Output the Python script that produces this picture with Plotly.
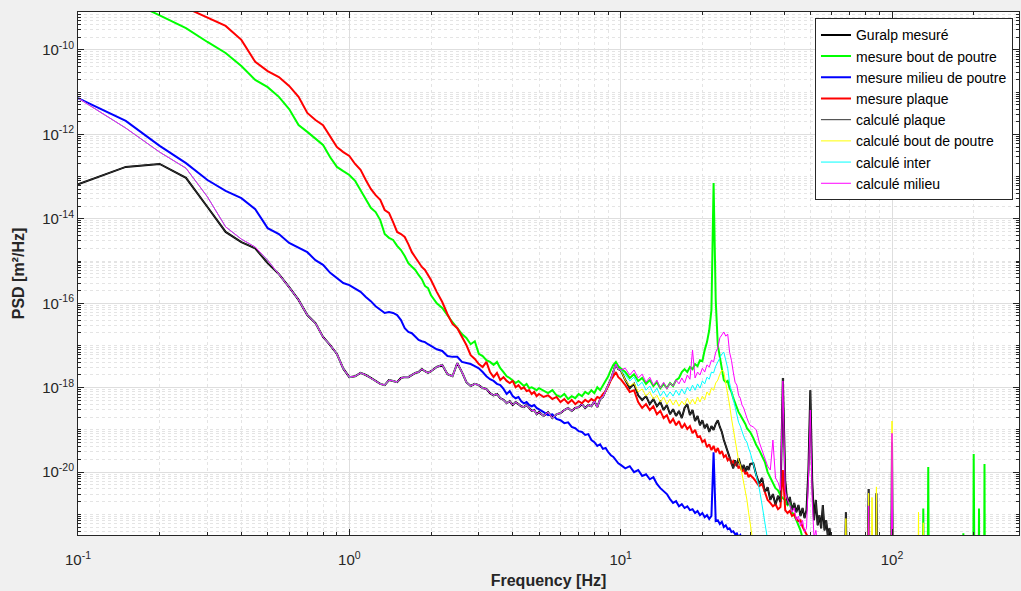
import plotly.graph_objects as go

# ---------------- frequency grid (Hz) ----------------
freq_a = [0.10, 0.15, 0.20, 0.25, 0.30, 0.35, 0.40, 0.45, 0.50, 0.55,
          0.60, 0.65, 0.70, 0.75, 0.80, 0.85, 0.90, 0.95, 1.00]
freq_b = [1.05, 1.10, 1.15, 1.20, 1.25, 1.30, 1.35, 1.40, 1.45, 1.50,
          1.55, 1.60, 1.65, 1.70, 1.75, 1.80, 1.85, 1.90, 1.95, 2.00]
freq_c = [2.1, 2.2, 2.3, 2.4, 2.5, 2.6, 2.7, 2.8, 2.9, 3.0,
          3.1, 3.2, 3.3, 3.4, 3.5, 3.6, 3.7, 3.8, 3.9, 4.0,
          4.1, 4.2, 4.3, 4.4, 4.5, 4.6, 4.7, 4.8, 4.9, 5.0]
freq_d = [5.2, 5.4, 5.6, 5.8, 6.0, 6.2, 6.4, 6.6, 6.8, 7.0,
          7.2, 7.4, 7.6, 7.8, 8.0, 8.2, 8.4, 8.6, 8.8, 9.0,
          9.2, 9.4, 9.6, 9.8, 10.0]
freq_e = [10.4, 10.8, 11.2, 11.6, 12.0, 12.4, 12.8, 13.2, 13.6, 14.0,
          14.4, 14.8, 15.2, 15.6, 16.0, 16.4, 16.8, 17.2, 17.6, 18.0,
          18.4, 18.8, 19.2, 19.6, 20.0, 20.4, 20.8, 21.2, 21.6, 22.0,
          22.4, 22.8, 23.2, 23.6, 24.0, 24.4, 24.8, 25.2, 25.6, 26.0,
          26.4, 26.8, 27.2, 27.6, 28.0, 28.4, 28.8, 29.2, 29.6, 30.0]
freq_f = [30.8, 31.6, 32.4, 33.2, 34.0, 34.8, 35.6, 36.4, 37.2, 38.0,
          38.8, 39.6, 40.4, 41.2, 42.0, 42.8, 43.6, 44.4, 45.2, 46.0,
          46.8, 47.6, 48.4, 49.2, 50.0, 50.8, 51.6, 52.4, 53.2, 54.0,
          54.8, 55.6, 56.4, 57.2, 58.0, 58.8, 59.6]

# ---------------- log10 PSD values ----------------
guralp_log = [
    -13.18, -12.77, -12.70, -13.03, -13.72, -14.31, -14.55, -14.70, -15.05, -15.31,
    -15.62, -15.92, -16.28, -16.47, -16.80, -16.99, -17.20, -17.55, -17.75,
    -17.73, -17.65, -17.70, -17.77, -17.84, -17.91, -17.94, -17.82, -17.84, -17.87,
    -17.77, -17.75, -17.75, -17.70, -17.65, -17.63, -17.56, -17.61, -17.65, -17.61,
    -17.51, -17.46, -17.68, -17.73, -17.42, -17.63, -17.87, -17.96, -17.91, -17.94,
    -18.01, -18.03, -18.13, -18.18, -18.15, -18.25, -18.29, -18.37, -18.32, -18.41,
    -18.34, -18.39, -18.44, -18.46, -18.41, -18.48, -18.55, -18.53, -18.63, -18.58,
    -18.67, -18.58, -18.72, -18.63, -18.60, -18.53, -18.48, -18.55, -18.48, -18.46,
    -18.39, -18.48, -18.41, -18.44, -18.32, -18.46, -18.27, -18.22, -18.06, -17.94,
    -17.80, -17.63, -17.44, -17.56, -17.58,
    -17.82, -18.01, -17.91, -18.18, -18.29, -18.20, -18.39, -18.27, -18.44, -18.34,
    -18.53, -18.41, -18.63, -18.51, -18.67, -18.55, -18.72, -18.48, -18.39, -18.65,
    -18.53, -18.79, -18.67, -18.89, -18.77, -18.96, -18.86, -19.05, -18.91, -19.00,
    -18.86, -18.77, -18.93, -19.05, -19.24, -19.38, -19.53, -19.67, -19.81, -19.91,
    -19.72, -19.86, -19.67, -19.79, -19.95, -19.83, -20.00, -19.86, -19.95, -19.81,
    -19.79, -20.07, -20.28, -20.14, -20.47, -20.36, -20.66, -20.52, -20.78, -20.56,
    -20.71, -17.77, -20.19, -20.78, -20.59, -20.90, -20.73, -20.95, -20.78, -21.04,
    -20.85, -21.09, -20.90, -19.95, -18.06, -20.19, -21.14, -20.66, -21.26, -21.02,
    -21.33, -20.78, -21.38, -21.14, -21.52, -21.33, -21.61,
]
guralp_hf_freq = [60.4, 66.8, 67.6, 68.4, 81.2, 82.0, 82.8, 83.6, 86.8, 87.6,
                  88.4, 99.2, 100.0, 100.8, 294.0]
guralp_hf_log = [-23.0, -23.0, -20.95, -23.0, -23.0, -20.40, -23.0, -23.0, -23.0, -20.50,
                 -23.0, -23.0, -19.30, -23.0, -23.0]

green_log = [
    -8.30, -8.80, -9.18, -9.48, -9.81, -10.07, -10.38, -10.71, -10.88, -11.11,
    -11.40, -11.78, -11.94, -12.09, -12.25, -12.54, -12.77, -12.87, -12.96,
    -13.10, -13.32, -13.53, -13.74, -13.84, -14.03, -14.36, -14.45, -14.50, -14.64,
    -14.74, -14.88, -15.05, -15.14, -15.21, -15.33, -15.43, -15.59, -15.64, -15.81,
    -16.00, -16.11, -16.30, -16.45, -16.59, -16.73, -16.82, -16.97, -16.90, -17.20,
    -17.25, -17.35, -17.39, -17.46, -17.39, -17.54, -17.63, -17.73, -17.77, -17.82,
    -17.89, -17.84, -17.91, -17.96, -17.91, -18.01, -17.99, -18.03, -18.06, -18.01,
    -18.08, -18.13, -18.06, -18.18, -18.22, -18.15, -18.27, -18.20, -18.25, -18.15,
    -18.20, -18.10, -18.15, -18.06, -18.13, -17.99, -18.06, -17.94, -17.84, -17.73,
    -17.58, -17.46, -17.39, -17.49, -17.54,
    -17.63, -17.77, -17.68, -17.84, -17.77, -17.91, -17.82, -17.96, -17.87, -18.01,
    -17.91, -18.01, -17.89, -17.96, -17.82, -17.77, -17.63, -17.56, -17.63, -17.51,
    -17.56, -17.44, -17.49, -17.35, -17.37, -17.11, -16.92, -16.64, -16.16, -13.15,
    -15.92, -16.99, -17.30, -17.63, -17.82, -17.87, -17.84, -18.01, -18.10, -18.25,
    -18.37, -18.46, -18.58, -18.65, -18.72, -18.79, -18.86, -18.96, -19.00, -19.05,
    -19.19, -19.36, -19.48, -19.62, -19.76, -20.00, -20.14, -20.24, -20.38, -20.43,
    -20.55, -20.62, -20.66, -20.78, -20.73, -20.95, -21.02, -21.14, -21.26, -21.38,
    -21.56, -23.0, -23.0, -23.0, -23.0, -23.0, -23.0, -23.0, -23.0, -23.0,
    -23.0, -23.0, -23.0, -23.0, -23.0, -23.0, -23.0,
]
green_hf_freq = [60.4, 129.6, 130.4, 131.2, 135.2, 136.0, 136.8, 182.4, 183.2, 184.0,
                 199.2, 200.0, 200.8, 201.6, 208.4, 209.2, 210.0, 218.4, 219.2, 220.0,
                 294.0]
green_hf_log = [-23.0, -23.0, -20.86, -23.0, -23.0, -19.88, -23.0, -23.0, -21.45, -23.0,
                -23.0, -19.57, -20.20, -23.0, -23.0, -20.86, -23.0, -23.0, -19.81, -23.0,
                -23.0]

blue_log = [
    -11.14, -11.68, -12.27, -12.68, -13.08, -13.34, -13.51, -13.77, -14.22, -14.36,
    -14.57, -14.69, -14.79, -14.98, -15.09, -15.28, -15.40, -15.52, -15.57,
    -15.66, -15.73, -15.85, -15.95, -16.07, -16.16, -16.23, -16.21, -16.23, -16.28,
    -16.40, -16.59, -16.68, -16.71, -16.78, -16.87, -16.90, -16.92, -16.97, -17.01,
    -17.09, -17.13, -17.25, -17.27, -17.27, -17.39, -17.42, -17.44, -17.49, -17.54,
    -17.63, -17.73, -17.80, -17.84, -17.91, -17.94, -18.03, -18.15, -18.08, -18.20,
    -18.25, -18.22, -18.32, -18.37, -18.34, -18.41, -18.44, -18.41, -18.48, -18.51,
    -18.58, -18.65, -18.63, -18.74, -18.77, -18.84, -18.82, -18.93, -18.96, -19.03,
    -19.05, -19.12, -19.10, -19.24, -19.29, -19.38, -19.34, -19.45, -19.43, -19.53,
    -19.60, -19.64, -19.72, -19.79, -19.83,
    -19.91, -19.86, -20.00, -19.95, -20.09, -20.05, -20.17, -20.12, -20.28, -20.38,
    -20.45, -20.52, -20.64, -20.73, -20.69, -20.81, -20.76, -20.85, -20.81, -20.90,
    -20.88, -20.97, -20.92, -21.02, -20.97, -21.07, -21.02, -21.11, -21.04, -19.53,
    -21.16, -21.14, -21.23, -21.18, -21.30, -21.26, -21.35, -21.33, -21.42, -21.40,
    -21.47, -21.45, -21.54, -21.49, -21.59, -21.66, -22.00, -22.30, -22.60, -23.00,
    -23.0, -23.0, -23.0, -23.0, -23.0, -23.0, -23.0, -23.0, -23.0, -23.0,
    -23.0, -23.0, -23.0, -23.0, -23.0, -23.0, -23.0, -23.0, -23.0, -23.0,
    -23.0, -23.0, -23.0, -23.0, -23.0, -23.0, -23.0, -23.0, -23.0, -23.0,
    -23.0, -23.0, -23.0, -23.0, -23.0, -23.0, -23.0,
]

red_log = [
    -7.70, -8.30, -8.70, -9.00, -9.24, -9.43, -9.76, -10.28, -10.50, -10.64,
    -10.85, -11.11, -11.49, -11.66, -11.78, -12.06, -12.30, -12.42, -12.51,
    -12.70, -12.84, -13.08, -13.29, -13.44, -13.55, -13.79, -13.86, -14.08, -14.31,
    -14.36, -14.43, -14.60, -14.79, -14.91, -15.02, -15.14, -15.21, -15.33, -15.45,
    -15.73, -15.97, -16.26, -16.49, -16.59, -16.78, -16.99, -17.23, -17.32, -17.44,
    -17.51, -17.39, -17.63, -17.75, -17.65, -17.82, -17.75, -17.84, -17.89, -17.84,
    -17.99, -17.94, -18.03, -17.99, -18.08, -18.06, -18.15, -18.10, -18.20, -18.15,
    -18.22, -18.18, -18.27, -18.22, -18.34, -18.27, -18.37, -18.29, -18.39, -18.32,
    -18.37, -18.29, -18.34, -18.27, -18.32, -18.22, -18.25, -18.15, -18.08, -17.96,
    -17.82, -17.73, -17.63, -17.75, -17.80,
    -17.94, -18.10, -18.06, -18.34, -18.48, -18.39, -18.53, -18.44, -18.63, -18.55,
    -18.72, -18.65, -18.84, -18.74, -18.89, -18.79, -18.96, -18.86, -18.98, -18.91,
    -19.08, -19.00, -19.17, -19.15, -19.29, -19.24, -19.41, -19.34, -19.48, -19.38,
    -19.53, -19.43, -19.57, -19.50, -19.64, -19.60, -19.72, -19.67, -19.79, -19.74,
    -19.83, -19.79, -19.91, -19.86, -19.98, -19.93, -20.05, -20.00, -20.12, -20.07,
    -20.14, -20.24, -20.33, -20.28, -20.47, -20.66, -20.73, -20.81, -20.76, -20.88,
    -20.83, -19.95, -20.90, -20.97, -20.92, -21.04, -21.00, -21.11, -21.16, -21.14,
    -21.30, -21.38, -21.49, -21.56, -23.0, -23.0, -23.0, -23.0, -23.0, -23.0,
    -23.0, -23.0, -23.0, -23.0, -23.0, -23.0, -23.0,
]

# calculated curves: identical to one another below ~10 Hz
milieu_low_log = [-11.14, -11.85, -12.42, -12.80, -13.48, -14.19, -14.48, -14.67, -14.98]
milieu_high_log = [
    -17.54, -17.70, -17.58, -17.77, -17.68, -17.87, -17.75, -17.94, -17.82, -18.01,
    -17.87, -18.03, -17.89, -17.96, -17.82, -17.91, -17.77, -17.89, -17.70, -17.80,
    -17.11, -17.77, -17.63, -17.70, -17.54, -17.63, -17.46, -17.51, -17.35, -17.39,
    -17.16, -17.06, -16.82, -16.75, -16.68, -16.78, -16.73, -17.16, -17.35, -17.63,
    -17.87, -17.94, -18.18, -18.25, -18.41, -18.48, -18.63, -18.72, -18.82, -18.89,
    -18.93, -19.00, -19.29, -19.48, -19.67, -19.86, -19.95, -19.24, -20.14, -20.24,
    -20.43, -17.84, -20.47, -20.66, -20.78, -20.95, -20.85, -21.14, -21.04, -21.28,
    -21.14, -21.42, -21.33, -20.19, -18.53, -20.66, -21.56, -21.38, -21.73, -23.0,
    -23.0, -23.0, -23.0, -23.0, -23.0, -23.0, -23.0,
]
milieu_hf_freq = [60.4, 81.2, 82.0, 82.8, 99.2, 100.0, 100.8, 294.0]
milieu_hf_log = [-23.0, -23.0, -20.80, -23.0, -23.0, -19.08, -23.0, -23.0]

bout_high_log = [
    -17.82, -17.96, -17.89, -18.10, -18.03, -18.20, -18.10, -18.27, -18.18, -18.34,
    -18.22, -18.39, -18.27, -18.41, -18.29, -18.44, -18.32, -18.41, -18.25, -18.39,
    -18.27, -18.39, -18.22, -18.34, -18.20, -18.29, -18.10, -18.18, -18.01, -18.06,
    -17.89, -17.82, -17.68, -17.58, -17.63, -17.87, -18.13, -18.41, -18.72, -19.00,
    -19.29, -19.53, -19.72, -19.83, -20.05, -20.24, -20.43, -20.66, -20.95, -21.18,
    -21.61, -22.20, -23.0, -23.0, -23.0, -23.0, -23.0, -23.0, -23.0, -23.0,
    -23.0, -23.0, -23.0, -23.0, -23.0, -23.0, -23.0, -23.0, -23.0, -23.0,
    -23.0, -23.0, -23.0, -23.0, -23.0, -23.0, -23.0, -23.0, -23.0, -23.0,
    -23.0, -23.0, -23.0, -23.0, -23.0, -23.0, -23.0,
]
bout_hf_freq = [60.4, 66.8, 67.6, 68.4, 81.2, 82.0, 82.8, 83.6, 84.4, 85.2,
                86.8, 87.6, 88.4, 99.2, 100.0, 100.8, 124.4, 125.2, 126.0, 129.6,
                130.4, 131.2, 294.0]
bout_hf_log = [-23.0, -23.0, -21.10, -23.0, -23.0, -20.50, -23.0, -23.0, -20.60, -23.0,
               -23.0, -20.35, -23.0, -23.0, -18.79, -23.0, -23.0, -20.95, -23.0, -23.0,
               -21.20, -23.0, -23.0]

inter_high_log = [
    -17.70, -17.84, -17.75, -17.96, -17.87, -18.06, -17.96, -18.13, -18.01, -18.20,
    -18.08, -18.22, -18.10, -18.20, -18.06, -18.18, -18.03, -18.15, -17.99, -18.08,
    -17.94, -18.06, -17.91, -18.01, -17.84, -17.91, -17.75, -17.80, -17.63, -17.65,
    -17.49, -17.39, -17.27, -17.20, -17.16, -17.35, -17.54, -17.89, -18.10, -18.29,
    -18.46, -18.67, -18.82, -18.91, -19.05, -19.15, -19.24, -19.29, -19.43, -19.53,
    -19.79, -20.07, -20.38, -20.78, -21.18, -21.61, -22.30, -23.0, -23.0, -23.0,
    -23.0, -23.0, -23.0, -23.0, -23.0, -23.0, -23.0, -23.0, -23.0, -23.0,
    -23.0, -23.0, -23.0, -23.0, -23.0, -23.0, -23.0, -23.0, -23.0, -23.0,
    -23.0, -23.0, -23.0, -23.0, -23.0, -23.0, -23.0,
]

# ---------------- assemble ----------------
freq = freq_a + freq_b + freq_c + freq_d + freq_e + freq_f
n_low = len(freq_a) + len(freq_b) + len(freq_c) + len(freq_d)
n_a9 = len(milieu_low_log)
calc_low = milieu_low_log + guralp_log[n_a9:n_low]

series = [
    ("Guralp mesuré", freq + guralp_hf_freq, guralp_log + guralp_hf_log, "#000000", 2.0),
    ("mesure bout de poutre", freq + green_hf_freq, green_log + green_hf_log, "#00ff00", 2.0),
    ("mesure milieu de poutre", freq, blue_log, "#0000ff", 2.0),
    ("mesure plaque", freq, red_log, "#ff0000", 2.0),
    ("calculé plaque", freq + guralp_hf_freq, guralp_log + guralp_hf_log, "#333333", 1.0),
    ("calculé bout de poutre", freq + bout_hf_freq, calc_low + bout_high_log + bout_hf_log,
     "#ffff00", 1.0),
    ("calculé inter", freq, calc_low + inter_high_log, "#00ffff", 1.0),
    ("calculé milieu", freq + milieu_hf_freq, calc_low + milieu_high_log + milieu_hf_log,
     "#ff00ff", 1.0),
]

fig = go.Figure()
for name, fx, ly, color, width in series:
    assert len(fx) == len(ly), (name, len(fx), len(ly))
    fig.add_trace(go.Scatter(
        x=fx, y=[10.0 ** v for v in ly], mode="lines", name=name,
        line=dict(color=color, width=width),
    ))

x_major = [0.1, 1, 10, 100]
x_major_text = ["10<sup>-1</sup>", "10<sup>0</sup>", "10<sup>1</sup>", "10<sup>2</sup>"]
y_major = [1e-20, 1e-18, 1e-16, 1e-14, 1e-12, 1e-10]
y_major_text = ["10<sup>-20</sup>", "10<sup>-18</sup>", "10<sup>-16</sup>",
                "10<sup>-14</sup>", "10<sup>-12</sup>", "10<sup>-10</sup>"]

x_minor = [k * 10.0 ** n for n in range(-1, 3) for k in range(2, 10) if k * 10.0 ** n < 300]
y_minor = [k * 10.0 ** n for n in range(-22, -8) for k in range(1, 10)
           if not (k == 1 and n % 2 == 0)]

axis_col = "#262626"
font_fam = "Arial"

common = dict(
    type="log", ticks="inside", ticklen=6, tickwidth=1, tickcolor=axis_col,
    showline=True, linecolor=axis_col, linewidth=1, mirror="ticks",
    showgrid=True, gridcolor="#dedede", gridwidth=1, zeroline=False,
    tickfont=dict(family=font_fam, size=15, color=axis_col),
)

fig.update_xaxes(
    **common, range=[-1, 2.468], tickmode="array", tickvals=x_major, ticktext=x_major_text,
    ticklabelstandoff=11,
    minor=dict(tickmode="array", tickvals=x_minor, ticks="inside", ticklen=3,
               tickcolor=axis_col, showgrid=True, gridcolor="#e4e4e4", griddash="dot"),
    title=dict(text="<b>Frequency [Hz]</b>", font=dict(family=font_fam, size=16, color=axis_col),
               standoff=7),
)
fig.update_yaxes(
    **common, range=[-21.49, -9.10], tickmode="array", tickvals=y_major, ticktext=y_major_text,
    minor=dict(tickmode="array", tickvals=y_minor, ticks="inside", ticklen=3,
               tickcolor=axis_col, showgrid=True, gridcolor="#e4e4e4", griddash="dot"),
    title=dict(text="<b>PSD [m²/Hz]</b>", font=dict(family=font_fam, size=16, color=axis_col),
               standoff=13),
)

fig.update_layout(
    width=1021, height=591,
    margin=dict(l=78, r=2, t=12, b=56, autoexpand=False),
    paper_bgcolor="#f0f0f0", plot_bgcolor="#ffffff",
    font=dict(family=font_fam, size=14, color=axis_col),
    showlegend=True,
    legend=dict(
        x=0.9936, xanchor="right", y=0.988, yanchor="top",
        bgcolor="#ffffff", bordercolor=axis_col, borderwidth=1,
        font=dict(family=font_fam, size=14, color="#000000"),
        itemwidth=30, tracegroupgap=0,
    ),
)

fig.write_html(
    "out.html",
    config={"displayModeBar": False},
    post_script="document.body.style.margin='0';document.body.style.background='#f0f0f0';",
)
